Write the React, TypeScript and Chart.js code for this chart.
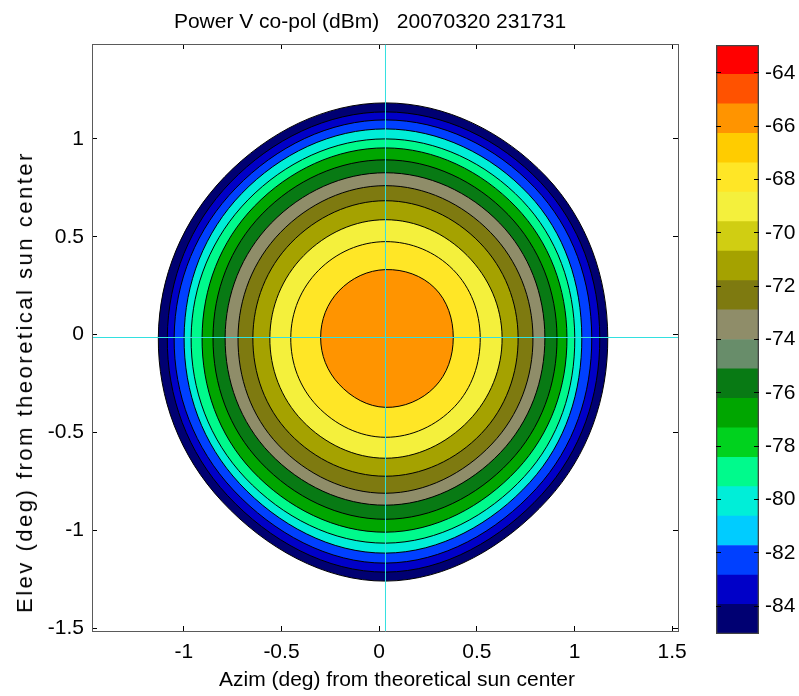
import React, { useEffect, useRef } from 'react';
import { Chart, registerables } from 'chart.js';

Chart.register(...registerables);

const FONT_FAMILY = '"Liberation Sans", Arial, Helvetica, sans-serif';
const FRAME = '#5a5a5a';
const CROSS = '#33e0e0';

// Axes, degrees from the theoretical sun center
const azimRange = [-1.47, 1.53];
const elevRange = [-1.515, 1.485];
const azimTicks = [-1, -0.5, 0, 0.5, 1, 1.5];
const elevTicks = [-1.5, -1, -0.5, 0, 0.5, 1];

// Measured beam centre (azim, elev) marked by the crosshair
const beamCenter = [0.0325, -0.015];

// Directions (deg, counter-clockwise from +azim) at which contour radii are given
const contourDirections = [0, 45, 90, 135, 180, 225, 270, 315];

// Outer edge radius (deg) of each filled contour, outermost first
const contour0 = [1.138, 1.163, 1.199, 1.163, 1.163, 1.184, 1.245, 1.173];
const contour1 = [1.097, 1.122, 1.153, 1.122, 1.117, 1.143, 1.199, 1.133];
const contour2 = [1.056, 1.082, 1.112, 1.082, 1.082, 1.102, 1.153, 1.092];
const contour3 = [1.005, 1.036, 1.066, 1.041, 1.031, 1.056, 1.102, 1.046];
const contour4 = [0.969, 0.99, 1.015, 0.995, 0.995, 1.015, 1.051, 1.005];
const contour5 = [0.929, 0.944, 0.969, 0.949, 0.939, 0.964, 0.995, 0.954];
const contour6 = [0.878, 0.888, 0.908, 0.893, 0.883, 0.903, 0.929, 0.898];
const contour7 = [0.816, 0.827, 0.842, 0.827, 0.821, 0.837, 0.857, 0.832];
const contour8 = [0.755, 0.76, 0.776, 0.76, 0.755, 0.776, 0.796, 0.77];
const contour9 = [0.679, 0.684, 0.699, 0.684, 0.679, 0.694, 0.709, 0.694];
const contour10 = [0.597, 0.592, 0.602, 0.592, 0.592, 0.602, 0.617, 0.602];
const contour11 = [0.485, 0.49, 0.49, 0.485, 0.485, 0.495, 0.51, 0.5];
const contour12 = [0.347, 0.357, 0.347, 0.337, 0.332, 0.337, 0.357, 0.357];
const contourRadii = [
  contour0, contour1, contour2, contour3, contour4, contour5, contour6,
  contour7, contour8, contour9, contour10, contour11, contour12,
];
// Colour-scale band that fills each contour
const contourBand = [0, 1, 2, 4, 5, 7, 8, 10, 11, 12, 14, 15, 17];

// Colour scale (dBm): band edges, band colours, labelled values
const bandEdges = [
  -85.05, -83.94, -82.84, -81.73, -80.63, -79.52, -78.42, -77.31, -76.21, -75.1, -74.0,
  -72.89, -71.79, -70.68, -69.58, -68.47, -67.37, -66.26, -65.16, -64.05, -62.95,
];
const bandColors = [
  '#000072', '#0000c8', '#0040ff', '#00ccff', '#00eed8', '#00fa8c', '#00d21e', '#00a600',
  '#087a14', '#688d6a', '#8f8d69', '#7e7a10', '#a5a200', '#d0ce12', '#f4f03c', '#ffe626',
  '#ffcc00', '#ff9400', '#ff5200', '#ff0000',
];
const colorbarTicks = [-84, -82, -80, -78, -76, -74, -72, -70, -68, -66, -64];

const titleText = 'Power V co-pol (dBm)   20070320 231731';
const xTitle = 'Azim (deg) from theoretical sun center';
const yTitle = 'Elev (deg) from theoretical sun center';

const textFont = { family: FONT_FAMILY, size: 21, weight: 'normal' as const, lineHeight: 1.2 };

// Contour outlines are closed curves: let the line element wrap around
const closedContours = {
  id: 'closedContours',
  afterDatasetsUpdate(chart: any) {
    chart.data.datasets.forEach((ds: any, i: number) => {
      if (!ds.closedContour) return;
      const line: any = chart.getDatasetMeta(i).dataset;
      if (!line) return;
      line._loop = true;
      line._fullLoop = true;
      line._pointsUpdated = false;
      line._segments = undefined;
      line._path = undefined;
    });
  },
};

function fixedTicks(values: number[]) {
  return (scale: any) => {
    scale.ticks = values.map((v) => ({ value: v }));
  };
}

function contourPoints(radii: number[]) {
  return contourDirections.map((deg, i) => {
    const a = (deg * Math.PI) / 180;
    return {
      x: beamCenter[0] + radii[i] * Math.cos(a),
      y: beamCenter[1] + radii[i] * Math.sin(a),
    };
  });
}

const innerTicks = {
  drawOnChartArea: false,
  drawTicks: true,
  tickLength: -5,
  color: '#000',
  lineWidth: 1,
  z: 1,
};

function mainConfig(): any {
  const contourSets = contourRadii.map((radii, i) => ({
    label: 'contour ' + i,
    data: contourPoints(radii),
    borderColor: '#000',
    borderWidth: 1,
    backgroundColor: bandColors[contourBand[i]],
    fill: 'shape',
    tension: 0.375,
    pointRadius: 0,
    order: contourRadii.length - i,
    closedContour: true,
  }));
  const crossSets = [
    {
      label: 'azim centre',
      data: [
        { x: beamCenter[0], y: elevRange[0] },
        { x: beamCenter[0], y: elevRange[1] },
      ],
    },
    {
      label: 'elev centre',
      data: [
        { x: azimRange[0], y: beamCenter[1] },
        { x: azimRange[1], y: beamCenter[1] },
      ],
    },
  ].map((d) => ({
    ...d,
    borderColor: CROSS,
    borderWidth: 1,
    pointRadius: 0,
    fill: false,
    tension: 0,
    order: 0,
  }));

  return {
    type: 'line',
    data: { datasets: [...contourSets, ...crossSets] },
    options: {
      animation: false,
      responsive: false,
      events: [],
      layout: { padding: 0 },
      plugins: {
        legend: { display: false },
        tooltip: { enabled: false },
        title: {
          display: true,
          text: titleText,
          color: '#000',
          font: textFont,
          padding: { top: 9.4, bottom: 9.4 },
        },
      },
      scales: {
        x: {
          type: 'linear',
          position: 'bottom',
          min: azimRange[0],
          max: azimRange[1],
          afterBuildTicks: fixedTicks(azimTicks),
          afterFit: (s: any) => {
            s.height = 65;
            s.paddingLeft = 0;
            s.paddingRight = 0;
          },
          grid: innerTicks,
          border: { display: true, color: FRAME, width: 1, z: 1 },
          ticks: {
            color: '#000',
            font: textFont,
            padding: 13.5,
            maxRotation: 0,
            autoSkip: false,
            callback: (v: any) => String(v),
          },
        },
        x2: {
          type: 'linear',
          position: 'top',
          min: azimRange[0],
          max: azimRange[1],
          afterBuildTicks: fixedTicks(azimTicks),
          afterFit: (s: any) => {
            s.height = 0;
            s.paddingLeft = 0;
            s.paddingRight = 0;
          },
          grid: innerTicks,
          border: { display: true, color: FRAME, width: 1, z: 1 },
          ticks: { display: false },
        },
        y: {
          type: 'linear',
          position: 'left',
          min: elevRange[0],
          max: elevRange[1],
          afterBuildTicks: fixedTicks(elevTicks),
          afterFit: (s: any) => {
            s.width = 92;
            s.paddingTop = 0;
            s.paddingBottom = 0;
          },
          grid: innerTicks,
          border: { display: true, color: FRAME, width: 1, z: 1 },
          ticks: {
            color: '#000',
            font: textFont,
            padding: 13,
            autoSkip: false,
            callback: (v: any) => String(v),
          },
        },
        y2: {
          type: 'linear',
          position: 'right',
          min: elevRange[0],
          max: elevRange[1],
          afterBuildTicks: fixedTicks(elevTicks),
          afterFit: (s: any) => {
            s.width = 62;
            s.paddingTop = 0;
            s.paddingBottom = 0;
          },
          grid: innerTicks,
          border: { display: true, color: FRAME, width: 1, z: 1 },
          ticks: { display: false },
        },
      },
    },
    plugins: [closedContours],
  };
}

function colorbarConfig(): any {
  const lo = bandEdges[0];
  const hi = bandEdges[bandEdges.length - 1];
  const bandSets = bandColors.map((c, i) => ({
    label: 'band ' + i,
    data: [[bandEdges[i], bandEdges[i + 1]]],
    backgroundColor: c,
    borderWidth: 0,
    grouped: false,
    barPercentage: 1,
    categoryPercentage: 1,
    order: 1,
  }));
  const outline = {
    label: 'outline',
    data: [[lo, hi]],
    backgroundColor: 'rgba(0,0,0,0)',
    borderColor: '#444',
    borderWidth: 1,
    borderSkipped: false,
    grouped: false,
    barPercentage: 1,
    categoryPercentage: 1,
    order: 0,
  };
  return {
    type: 'bar',
    data: { labels: ['dBm'], datasets: [outline, ...bandSets] },
    options: {
      animation: false,
      responsive: false,
      events: [],
      layout: { padding: { left: 16, right: 0, top: 45, bottom: 62 } },
      plugins: { legend: { display: false }, tooltip: { enabled: false } },
      scales: {
        x: { display: false },
        y: {
          type: 'linear',
          position: 'right',
          min: lo,
          max: hi,
          afterBuildTicks: fixedTicks(colorbarTicks),
          afterFit: (s: any) => {
            s.width = 40;
            s.paddingTop = 0;
            s.paddingBottom = 0;
          },
          grid: innerTicks,
          border: { display: false },
          ticks: {
            color: '#000',
            font: textFont,
            padding: 11,
            autoSkip: false,
            callback: (v: any) => String(v),
          },
        },
        yl: {
          type: 'linear',
          position: 'left',
          min: lo,
          max: hi,
          afterBuildTicks: fixedTicks(colorbarTicks),
          afterFit: (s: any) => {
            s.width = 0;
            s.paddingTop = 0;
            s.paddingBottom = 0;
          },
          grid: innerTicks,
          border: { display: false },
          ticks: { display: false },
        },
      },
    },
  };
}

const axisLabelStyle: React.CSSProperties = {
  position: 'absolute',
  fontFamily: FONT_FAMILY,
  fontSize: 21,
  lineHeight: 1,
  color: '#000',
  whiteSpace: 'nowrap',
};

export default function App() {
  const mainRef = useRef<HTMLCanvasElement>(null);
  const barRef = useRef<HTMLCanvasElement>(null);

  useEffect(() => {
    const main = new Chart(mainRef.current as HTMLCanvasElement, mainConfig());
    const bar = new Chart(barRef.current as HTMLCanvasElement, colorbarConfig());
    return () => {
      main.destroy();
      bar.destroy();
    };
  }, []);

  return (
    <div
      style={{
        position: 'fixed',
        left: 0,
        top: 0,
        width: 799,
        height: 696,
        background: '#ffffff',
        overflow: 'hidden',
      }}
    >
      <canvas
        ref={mainRef}
        width={740}
        height={696}
        style={{ position: 'absolute', left: 0, top: 0 }}
      />
      <canvas
        ref={barRef}
        width={99}
        height={696}
        style={{ position: 'absolute', left: 700, top: 0 }}
      />
      <div
        style={{
          ...axisLabelStyle,
          left: 397,
          top: 678,
          transform: 'translate(-50%, -50%)',
        }}
      >
        {xTitle}
      </div>
      <div
        style={{
          ...axisLabelStyle,
          fontSize: 22,
          letterSpacing: '2.5px',
          left: 25,
          top: 382,
          transform: 'translate(-50%, -50%) rotate(-90deg)',
        }}
      >
        {yTitle}
      </div>
    </div>
  );
}
